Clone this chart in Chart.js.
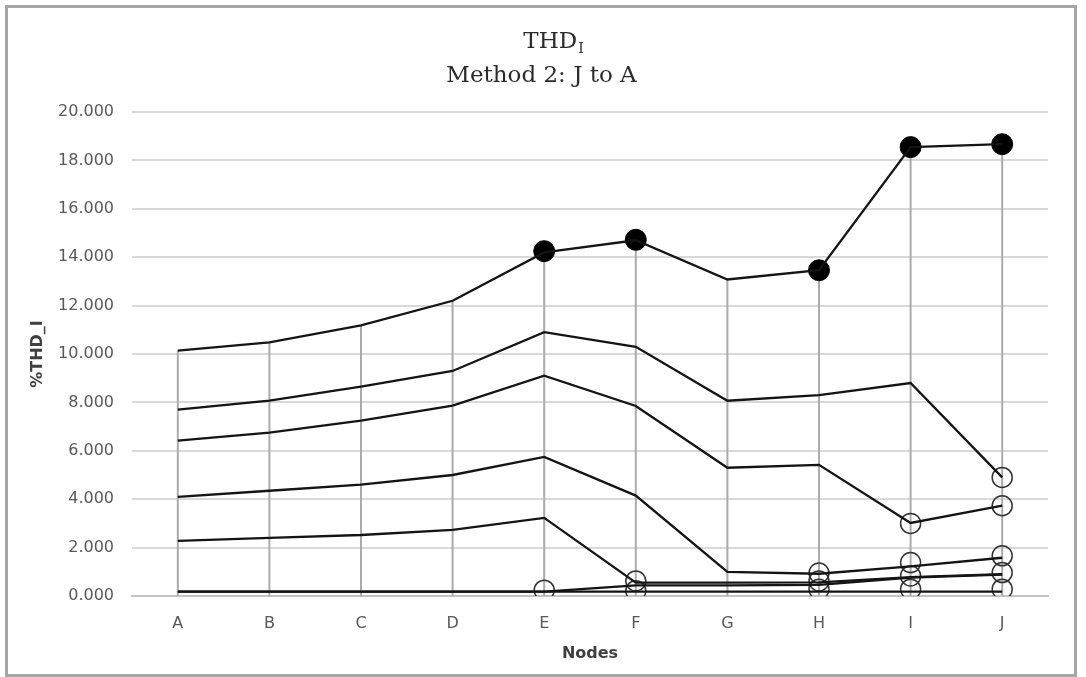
<!DOCTYPE html>
<html>
<head>
<meta charset="utf-8">
<script src="https://cdn.jsdelivr.net/npm/chart.js@4.4.0/dist/chart.umd.min.js"></script>
<style>
  html, body { margin: 0; padding: 0; background: #fff; }
  #wrap { width: 1086px; height: 677px; }
</style>
</head>
<body>
<div id="wrap"><canvas id="thd-chart" width="1086" height="677"></canvas></div>
<script>
const nodes = ["A", "B", "C", "D", "E", "F", "G", "H", "I", "J"];
const yTicks = [0, 2, 4, 6, 8, 10, 12, 14, 16, 18, 20];

// line series (values in %THD_I)
const series1 = [10.14, 10.48, 11.18, 12.2, 14.2, 14.7, 13.08, 13.46, 18.55, 18.67];
const series2 = [7.7, 8.07, 8.65, 9.3, 10.9, 10.3, 8.07, 8.3, 8.8, 4.9];
const series3 = [6.42, 6.75, 7.25, 7.87, 9.1, 7.85, 5.3, 5.42, 3.02, 3.73];
const series4 = [4.1, 4.35, 4.6, 5.0, 5.75, 4.15, 1.0, 0.92, 1.22, 1.58];
const series5 = [2.28, 2.4, 2.52, 2.73, 3.23, 0.55, 0.55, 0.56, 0.78, 0.9];
const series6 = [0.18, 0.18, 0.18, 0.18, 0.18, 0.44, 0.44, 0.46, 0.76, 0.88];
const series7 = [0.18, 0.18, 0.18, 0.18, 0.18, 0.18, 0.18, 0.18, 0.18, 0.18];

// markers
const filledMarks = [null, null, null, null, 14.25, 14.72, null, 13.46, 18.55, 18.67];
const openMarks1 = [null, null, null, null, 0.24, 0.22, null, 0.28, 0.28, 0.28];
const openMarks2 = [null, null, null, null, null, 0.62, null, 0.62, 0.83, 0.97];
const openMarks3 = [null, null, null, null, null, null, null, 0.95, 1.38, 1.66];
const openMarks4 = [null, null, null, null, null, null, null, null, 3.0, 3.73];
const openMarks5 = [null, null, null, null, null, null, null, null, null, 4.9];

const lineSeries = [series1, series2, series3, series4, series5, series6, series7];
const openSeries = [openMarks1, openMarks2, openMarks3, openMarks4, openMarks5];

// gray drop lines from the highest line down to the axis
const dropLines = {
  id: "dropLines",
  beforeDatasetsDraw(chart) {
    const { ctx, chartArea, scales } = chart;
    ctx.save();
    ctx.strokeStyle = "#ababab";
    ctx.lineWidth = 2;
    nodes.forEach((n, i) => {
      const top = Math.max(...lineSeries.map((s) => s[i]));
      const x = scales.x.getPixelForValue(i);
      ctx.beginPath();
      ctx.moveTo(x, scales.y.getPixelForValue(top));
      ctx.lineTo(x, chartArea.bottom);
      ctx.stroke();
    });
    ctx.restore();
  },
};

// title with subscript + outer frame
const titleAndFrame = {
  id: "titleAndFrame",
  beforeDraw(chart) {
    const ctx = chart.ctx;
    ctx.save();
    ctx.fillStyle = "#fff";
    ctx.fillRect(0, 0, chart.width, chart.height);
    ctx.strokeStyle = "#a6a6a6";
    ctx.lineWidth = 3;
    ctx.strokeRect(6.5, 6.5, 1069, 669);
    ctx.restore();
  },
  afterDraw(chart) {
    const ctx = chart.ctx;
    ctx.save();
    ctx.fillStyle = "#2b2b2b";
    ctx.textBaseline = "alphabetic";
    ctx.font = "23px 'DejaVu Serif'";
    const w1 = ctx.measureText("THD").width;
    ctx.font = "14px 'DejaVu Serif'";
    const w2 = ctx.measureText("I").width;
    let x = 543 - (w1 + w2) / 2 + 10;
    ctx.font = "23px 'DejaVu Serif'";
    ctx.textAlign = "left";
    ctx.fillText("THD", x, 48);
    ctx.font = "14px 'DejaVu Serif'";
    ctx.fillText("I", x + w1 + 1, 53);
    ctx.font = "23px 'DejaVu Serif'";
    ctx.textAlign = "center";
    ctx.fillText("Method 2: J to A", 541.5, 81.5);
    ctx.restore();
  },
};

document.addEventListener("DOMContentLoaded", () => {
  const datasets = [];
  lineSeries.forEach((s, i) => {
    datasets.push({
      label: "Series " + (i + 1),
      data: s,
      borderColor: "#141414",
      borderWidth: 2.3,
      pointRadius: 0,
      tension: 0,
    });
  });
  openSeries.forEach((s, i) => {
    datasets.push({
      label: "Open " + (i + 1),
      data: s,
      showLine: false,
      pointRadius: 10,
      pointBorderWidth: 1.5,
      pointBorderColor: "#333",
      pointBackgroundColor: "rgba(0,0,0,0)",
    });
  });
  datasets.push({
    label: "Filled",
    data: filledMarks,
    showLine: false,
    pointRadius: 10.5,
    pointBorderWidth: 1,
    pointBorderColor: "#000",
    pointBackgroundColor: "#000",
  });

  new Chart(document.getElementById("thd-chart"), {
    type: "line",
    data: { labels: nodes, datasets: datasets },
    options: {
      responsive: false,
      animation: false,
      layout: { padding: { top: 112, right: 38, left: 0, bottom: 0 } },
      plugins: {
        legend: { display: false },
        tooltip: { enabled: false },
        title: { display: false },
      },
      scales: {
        x: {
          offset: true,
          grid: { display: false, drawTicks: false, tickLength: 0 },
          border: { display: true, color: "#c4c4c4", width: 2 },
          ticks: {
            color: "#595959",
            font: { family: "DejaVu Sans", size: 16 },
            padding: 18,
          },
          title: {
            display: true,
            text: "Nodes",
            color: "#404040",
            font: { family: "DejaVu Sans", size: 16, weight: "bold" },
            padding: { top: 0, bottom: 14 },
          },
          afterFit(scale) {
            scale.height = 81;
          },
        },
        y: {
          min: 0,
          max: 20,
          afterBuildTicks(scale) {
            scale.ticks = yTicks.map((v) => ({ value: v }));
          },
          grid: { color: "#d9d9d9", lineWidth: 2, drawTicks: false, tickLength: 0 },
          border: { display: false },
          ticks: {
            color: "#595959",
            font: { family: "DejaVu Sans", size: 16 },
            padding: 18,
            callback: (v) => Number(v).toFixed(3),
          },
          title: {
            display: true,
            text: "%THD_I",
            color: "#404040",
            font: { family: "DejaVu Sans", size: 16, weight: "bold" },
            padding: { top: 28, bottom: 0 },
          },
          afterFit(scale) {
            scale.width = 132;
          },
        },
      },
    },
    plugins: [titleAndFrame, dropLines],
  });
});
</script>
</body>
</html>
